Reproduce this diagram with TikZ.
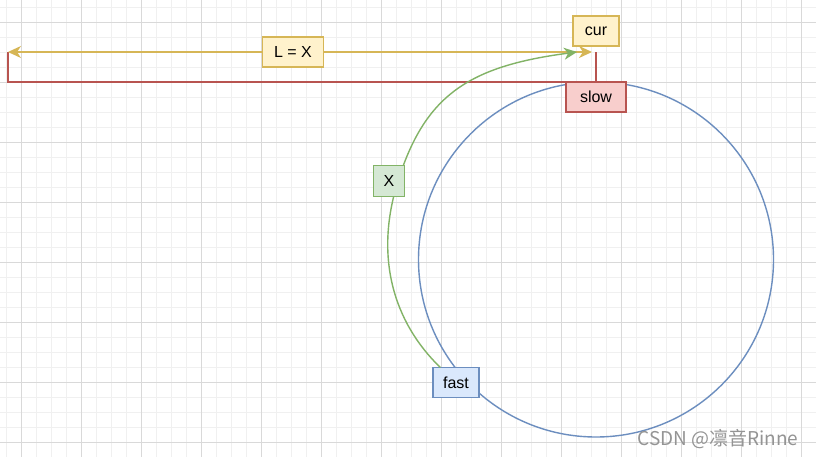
\documentclass[tikz,border=0pt]{standalone}
\usepackage{fontspec}
\setmainfont{Liberation Sans}
\newfontfamily\cjkfont{Noto Sans CJK SC}
\usetikzlibrary{calc,positioning,arrows.meta}
\definecolor{YelFill}{HTML}{FFF2CC}
\definecolor{YelLine}{HTML}{D6B656}
\definecolor{RedFill}{HTML}{F8CECC}
\definecolor{RedLine}{HTML}{B85450}
\definecolor{GrnFill}{HTML}{D5E8D4}
\definecolor{GrnLine}{HTML}{82B366}
\definecolor{BluFill}{HTML}{DAE8FC}
\definecolor{BluLine}{HTML}{6C8EBF}
\tikzset{
    gridminor/.style={line width=0.8pt,color=black!6},
    gridmajor/.style={line width=0.8pt,color=black!15},
    tagbox/.style={rectangle,draw,line width=1.4pt,inner sep=0pt,outer sep=0pt,minimum height=30pt,text=black,font=\fontsize{16}{19}\selectfont},
    yelbox/.style={tagbox,fill=YelFill,draw=YelLine},
    redbox/.style={tagbox,fill=RedFill,draw=RedLine},
    grnbox/.style={tagbox,fill=GrnFill,draw=GrnLine},
    blubox/.style={tagbox,fill=BluFill,draw=BluLine},
    lenarrow/.style={line width=1.4pt,YelLine,{Stealth[length=13pt,width=12pt,inset=4pt]}-{Stealth[length=13pt,width=12pt,inset=4pt]}},
    slowpath/.style={line width=1.5pt,RedLine},
    xcurve/.style={line width=1.4pt,GrnLine,-{Stealth[length=13pt,width=12pt,inset=4pt]}},
    ring/.style={line width=1.4pt,BluLine}
}
\begin{document}
\begin{tikzpicture}[x=1pt,y=-1pt]
		\useasboundingbox (0,0) rectangle (816,457);
		\fill[white] (0,0) rectangle (816,457);
		% grid
		\foreach \gx in {6,21,...,816} \draw[gridminor] (\gx,0) -- (\gx,457);
		\foreach \gy in {7,22,...,457} \draw[gridminor] (0,\gy) -- (816,\gy);
		\foreach \gx in {21,81,...,801} \draw[gridmajor] (\gx,0) -- (\gx,457);
		\foreach \gy in {22,82,...,442} \draw[gridmajor] (0,\gy) -- (816,\gy);
		% ring
		\draw[ring] (596,259.5) circle[radius=177.5pt];
		% boxes
		\node[yelbox,minimum width=46pt] (cur) at (596,31) {cur};
		\node[redbox,minimum width=60pt] (slow) at (596,97) {slow};
		\node[blubox,minimum width=46pt] (fast) at (456,382.5) {fast};
		\coordinate (lenL) at (8,52);
		\coordinate (lenR) at (592,52);
		\coordinate (curtip) at (577,52);
		\coordinate (xbend) at (398,181);
		% L = X span
		\draw[slowpath] (lenL) |- (slow.north) -- (slow.north |- lenL);
		\draw[lenarrow] (lenL) -- (lenR) node[yelbox,minimum width=61pt,pos=0.488] (len) {L = X};
		% fast -> cur
		\draw[xcurve] (fast) .. controls (393.6,322.5) and (374,257) .. (xbend)
			.. controls (425,95.5) and (468.1,66.3) .. (curtip);
		\node[grnbox,minimum width=31pt,minimum height=31pt] (xlab) at (389,181) {X};
		% watermark
		\node[text=black!42,font=\cjkfont\fontsize{19}{22}\selectfont,anchor=east] (mark) at (802,439) {CSDN @凛音Rinne};
\end{tikzpicture}
\end{document}
